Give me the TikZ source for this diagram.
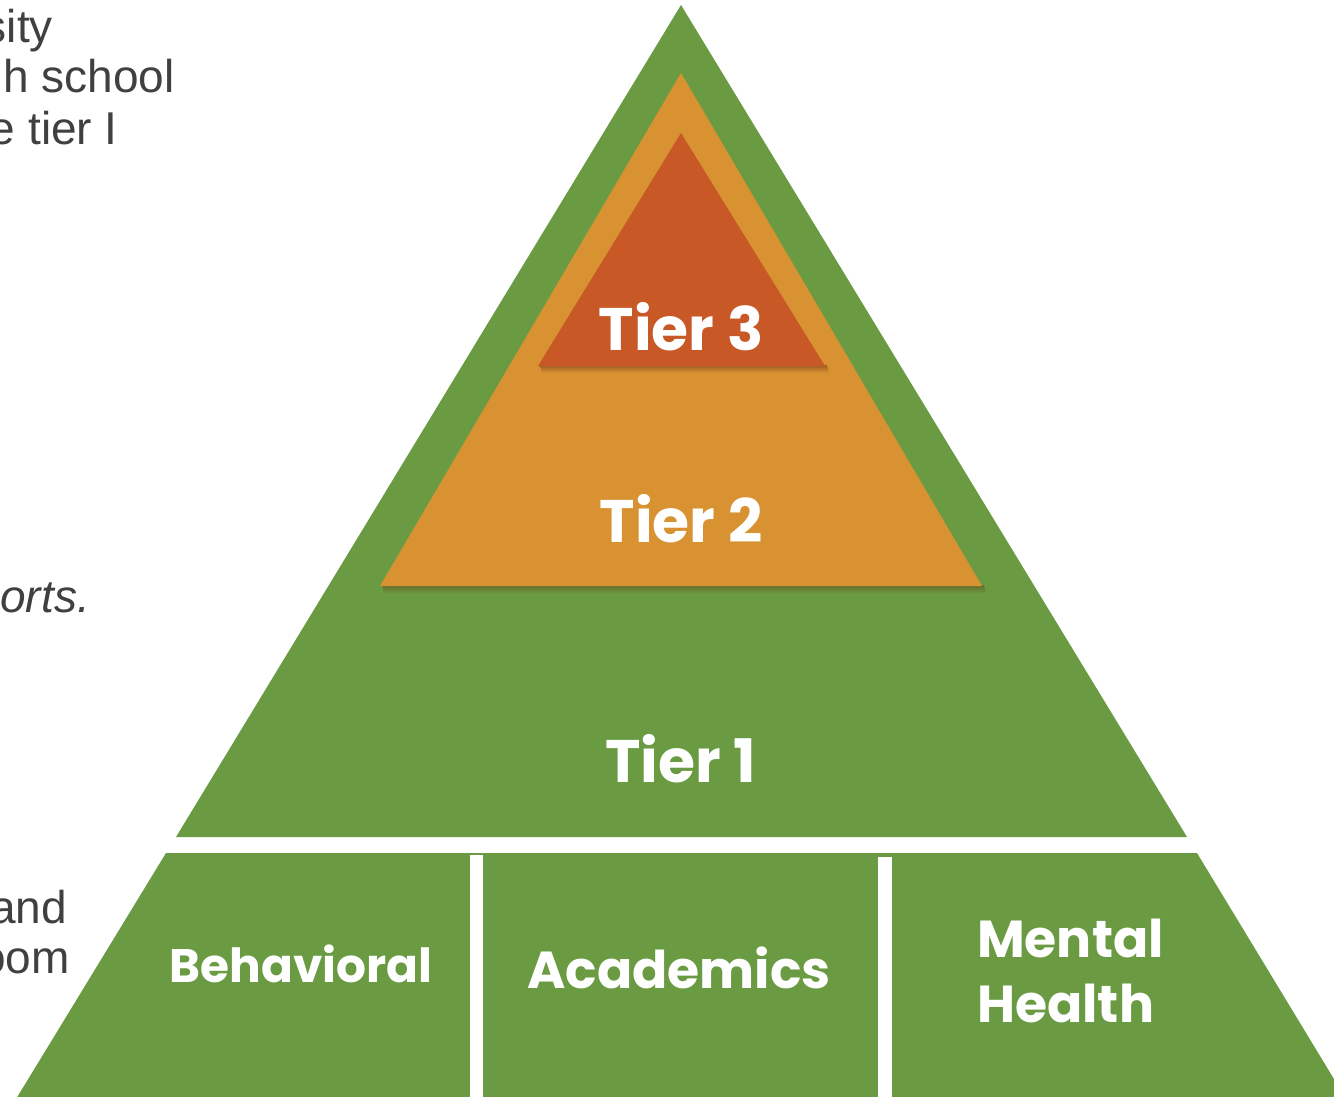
\documentclass[tikz,border=0pt]{standalone}
\usepackage{fontspec}
\setmainfont{Liberation Sans}
\newfontfamily\tierfont{Poppins}

\definecolor{leaf}{RGB}{106,155,67}
\definecolor{amber}{RGB}{216,146,50}
\definecolor{rust}{RGB}{200,88,38}
\definecolor{ink}{RGB}{64,64,64}
\definecolor{leafshade}{RGB}{105,108,42}
\definecolor{ambershade}{RGB}{160,92,35}

\tikzset{
  bodytext/.style={anchor=base east, inner sep=0pt, text=ink,
    font=\fontsize{46}{50}\selectfont},
  tierlabel/.style={anchor=base, inner sep=0pt, text=white,
    font=\tierfont\bfseries\fontsize{60}{66}\selectfont},
  arealabel/.style={anchor=base, inner sep=0pt, text=white,
    font=\tierfont\bfseries\fontsize{#1}{#1}\selectfont},
  layer/.style={fill=#1, draw=none},
  undershadow/.style n args={2}{top color=#1, bottom color=#2, draw=none},
  divider/.style={fill=white, draw=none},
}

\begin{document}
\begin{tikzpicture}[x=1pt, y=-1pt]
  \useasboundingbox (0,0) rectangle (1334,1097);
  \clip (0,0) rectangle (1334,1097);

  % body text running in from the left margin
  \node[bodytext] (t1) at (53,43) {sity};
  \node[bodytext] (t2) at (175,93) {h school};
  \node[bodytext] (t3) at (118,145) {e tier I};
  \node[bodytext, font=\itshape\fontsize{46}{50}\selectfont] (t4) at (90,612) {orts.};
  \node[bodytext] (t5) at (67,923) {and};
  \node[bodytext] (t6) at (70,973) {oom};

  % pyramid: tier 1 triangle and the base band below it
  \path[layer=leaf] (681,5) -- (176,837) -- (1187,837) -- cycle;
  \path[layer=leaf] (166,853) -- (1197,853) -- (1360,1122) -- (2,1122) -- cycle;

  % tier 2 layer with a soft shadow under its base
  \shade[undershadow={leafshade}{leaf}] (382,585) -- (984,585) -- (986,594) -- (384,594) -- cycle;
  \path[layer=amber] (681,73) -- (380,586) -- (982,586) -- cycle;

  % tier 3 layer with a soft shadow under its base
  \shade[undershadow={ambershade}{amber}] (540,365) -- (827,365) -- (829,373) -- (542,373) -- cycle;
  \path[layer=rust] (681,133) -- (538,366) -- (825,366) -- cycle;

  % white separators of the base band
  \path[divider] (470,855) rectangle (483,1100);
  \path[divider] (878,857) rectangle (892,1100);

  % labels
  \node[tierlabel] (tier3) at (681,350) {Tier 3};
  \node[tierlabel] (tier2) at (681,542) {Tier 2};
  \node[tierlabel] (tier1) at (681,782) {Tier 1};
  \node[arealabel=47] (beh) at (301,982) {Behavioral};
  \node[arealabel=52] (aca) at (679,988) {Academics};
  \node[arealabel=52, anchor=base west] (men) at (977,957) {Mental};
  \node[arealabel=52, anchor=base west] (hea) at (977,1022) {Health};
\end{tikzpicture}
\end{document}
